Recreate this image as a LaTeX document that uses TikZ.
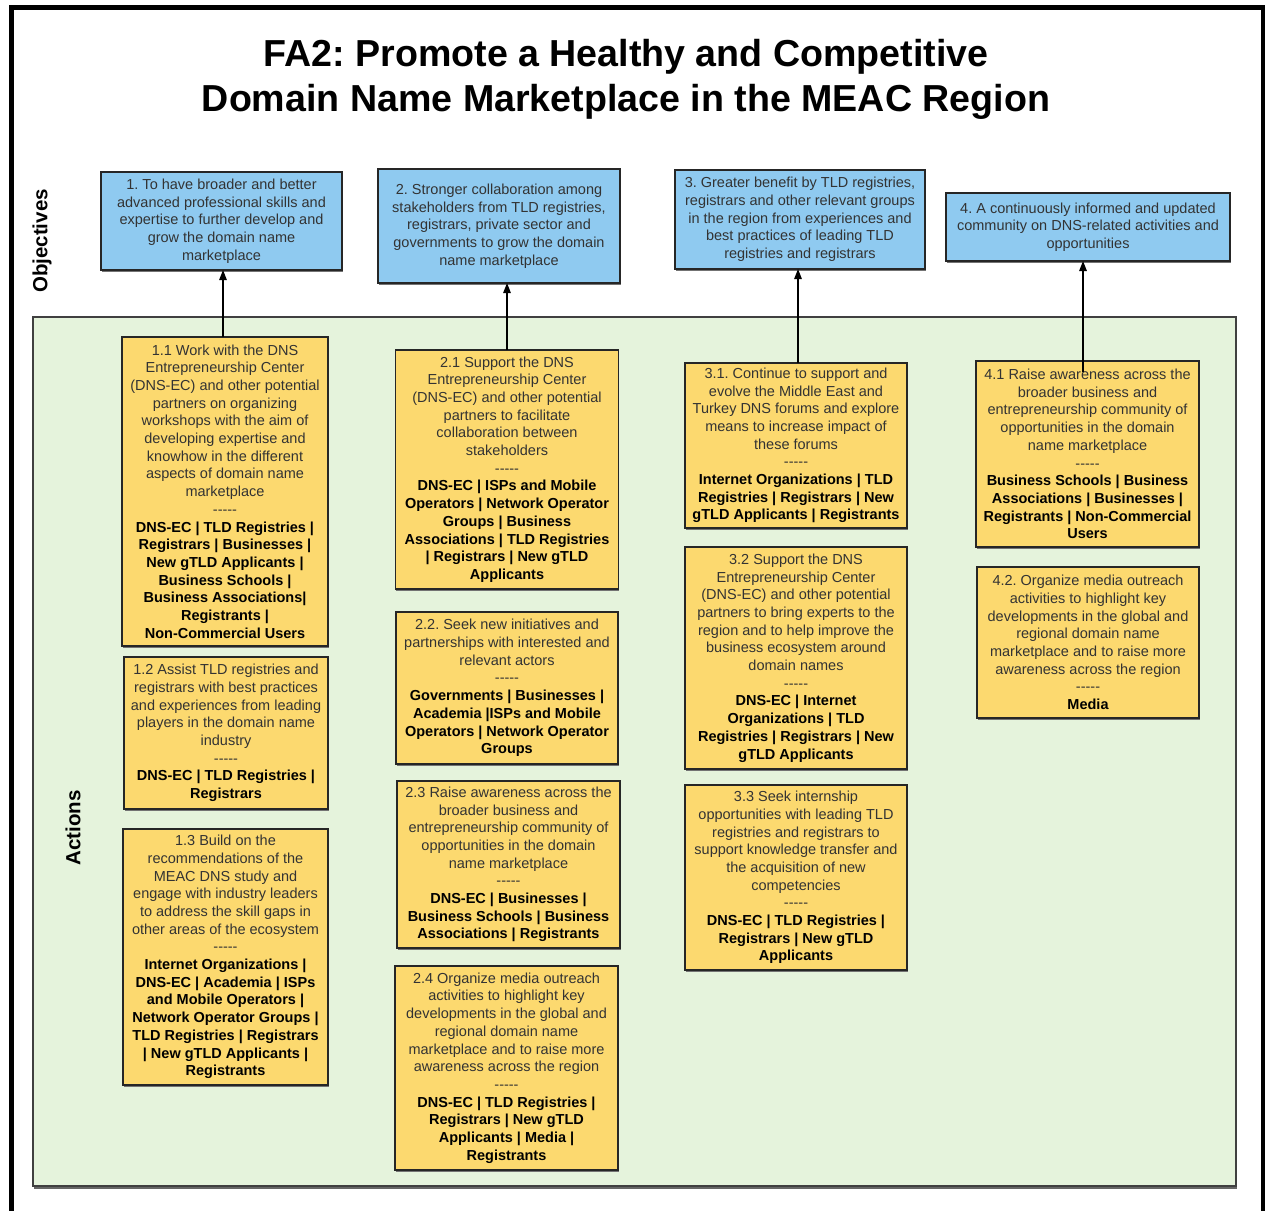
\documentclass[tikz,border=0pt]{standalone}
\usepackage{fontspec}
\setmainfont{Liberation Sans}
\usetikzlibrary{arrows.meta,shadows}
\definecolor{objblue}{HTML}{8FCAF0}
\definecolor{actyellow}{HTML}{FCD96F}
\definecolor{areagreen}{HTML}{E5F3DC}
\definecolor{txtgray}{HTML}{333333}
\newcommand\dashsep{-{}-{}-{}-{}-}
\frenchspacing
\begin{document}
\begin{tikzpicture}[x=1pt,y=-1pt,
  boxbase/.style={draw=black!85,line width=1.4pt,inner sep=0pt,outer sep=0pt,align=center,
    font=\fontsize{14.5}{17.7}\selectfont,text=txtgray,
    drop shadow={shadow xshift=0.8pt,shadow yshift=-1.6pt,fill=black!55,opacity=1}},
  objbox/.style={boxbase,fill=objblue},
  actbox/.style={boxbase,fill=actyellow},
  sidelabel/.style={rotate=90,font=\bfseries\fontsize{20.5}{24}\selectfont,text=black},
  upline/.style={line width=1.3pt,-{Triangle[length=10pt,width=7.5pt]}}]
\useasboundingbox (0,0) rectangle (1265,1210);
\fill[white] (0,0) rectangle (1265,1210);
% outer frame
\draw[line width=5pt,black] (11.5,1216) -- (11.5,7.5) -- (1263,7.5) -- (1263,1216);
% title
\node[font=\bfseries\fontsize{37.6}{45}\selectfont,align=center,text=black] (title) at (626,79)
  {FA2: Promote a Healthy and Competitive\\Domain Name Marketplace in the MEAC Region};
% actions area
\node[draw=black!75,line width=1.4pt,fill=areagreen,minimum width=1203pt,minimum height=869pt,
  inner sep=0pt,outer sep=0pt,
  drop shadow={shadow xshift=0.5pt,shadow yshift=-2.5pt,fill=black!60,opacity=1}] (area) at (634.5,751.5) {};
\node[sidelabel] (objlab) at (42,241) {Objectives};
\node[sidelabel] (actlab) at (73,828) {Actions};
% objectives
\node[objbox,minimum width=241pt,minimum height=98pt] (o1) at (221.5,221)
 {1. To have broader and better\\advanced professional skills and\\expertise to further develop and\\grow the domain name\\marketplace};
\node[objbox,minimum width=242pt,minimum height=114pt] (o2) at (499,226)
 {2. Stronger collaboration among\\stakeholders from TLD registries,\\registrars, private sector and\\governments to grow the domain\\name marketplace};
\node[objbox,minimum width=250pt,minimum height=99pt] (o3) at (800,219.5)
 {3. Greater benefit by TLD registries,\\registrars and other relevant groups\\in the region from experiences and\\best practices of leading TLD\\registries and registrars};
\node[objbox,minimum width=284pt,minimum height=68pt] (o4) at (1088,227)
 {4. A continuously informed and updated\\community on DNS-related activities and\\opportunities};
% actions column 1
\node[actbox,minimum width=206pt,minimum height=309pt] (a11) at (225,491.5)
 {1.1 Work with the DNS\\Entrepreneurship Center\\(DNS-EC) and other potential\\partners on organizing\\workshops with the aim of\\developing expertise and\\knowhow in the different\\aspects of domain name\\marketplace\\\dashsep\\
 \textbf{\color{black}DNS-EC | TLD Registries |}\\\textbf{\color{black}Registrars | Businesses |}\\\textbf{\color{black}New gTLD Applicants |}\\\textbf{\color{black}Business Schools |}\\\textbf{\color{black}Business Associations|}\\\textbf{\color{black}Registrants |}\\\textbf{\color{black}Non-Commercial Users}};
\node[actbox,minimum width=204pt,minimum height=152pt] (a12) at (226,733)
 {1.2 Assist TLD registries and\\registrars with best practices\\and experiences from leading\\players in the domain name\\industry\\\dashsep\\
 \textbf{\color{black}DNS-EC | TLD Registries |}\\\textbf{\color{black}Registrars}};
\node[actbox,minimum width=205pt,minimum height=256pt] (a13) at (225.5,957)
 {1.3 Build on the\\recommendations of the\\MEAC DNS study and\\engage with industry leaders\\to address the skill gaps in\\other areas of the ecosystem\\\dashsep\\
 \textbf{\color{black}Internet Organizations |}\\\textbf{\color{black}DNS-EC | Academia | ISPs}\\\textbf{\color{black}and Mobile Operators |}\\\textbf{\color{black}Network Operator Groups |}\\\textbf{\color{black}TLD Registries | Registrars}\\\textbf{\color{black}| New gTLD Applicants |}\\\textbf{\color{black}Registrants}};
% actions column 2
\node[actbox,minimum width=223pt,minimum height=239pt] (a21) at (507,469.5)
 {2.1 Support the DNS\\Entrepreneurship Center\\(DNS-EC) and other potential\\partners to facilitate\\collaboration between\\stakeholders\\\dashsep\\
 \textbf{\color{black}DNS-EC | ISPs and Mobile}\\\textbf{\color{black}Operators | Network Operator}\\\textbf{\color{black}Groups | Business}\\\textbf{\color{black}Associations | TLD Registries}\\\textbf{\color{black}| Registrars | New gTLD}\\\textbf{\color{black}Applicants}};
\node[actbox,minimum width=222pt,minimum height=152pt] (a22) at (507,688)
 {2.2. Seek new initiatives and\\partnerships with interested and\\relevant actors\\\dashsep\\
 \textbf{\color{black}Governments | Businesses |}\\\textbf{\color{black}Academia |ISPs and Mobile}\\\textbf{\color{black}Operators | Network Operator}\\\textbf{\color{black}Groups}};
\node[actbox,minimum width=223pt,minimum height=167pt] (a23) at (508.5,864.5)
 {2.3 Raise awareness across the\\broader business and\\entrepreneurship community of\\opportunities in the domain\\name marketplace\\\dashsep\\
 \textbf{\color{black}DNS-EC | Businesses |}\\\textbf{\color{black}Business Schools | Business}\\\textbf{\color{black}Associations | Registrants}};
\node[actbox,minimum width=223pt,minimum height=204pt] (a24) at (506.5,1068)
 {2.4 Organize media outreach\\activities to highlight key\\developments in the global and\\regional domain name\\marketplace and to raise more\\awareness across the region\\\dashsep\\
 \textbf{\color{black}DNS-EC | TLD Registries |}\\\textbf{\color{black}Registrars | New gTLD}\\\textbf{\color{black}Applicants | Media |}\\\textbf{\color{black}Registrants}};
% actions column 3
\node[actbox,minimum width=222pt,minimum height=165pt] (a31) at (796,445.5)
 {3.1. Continue to support and\\evolve the Middle East and\\Turkey DNS forums and explore\\means to increase impact of\\these forums\\\dashsep\\
 \textbf{\color{black}Internet Organizations | TLD}\\\textbf{\color{black}Registries | Registrars | New}\\\textbf{\color{black}gTLD Applicants | Registrants}};
\node[actbox,minimum width=222pt,minimum height=222pt] (a32) at (796,658)
 {3.2 Support the DNS\\Entrepreneurship Center\\(DNS-EC) and other potential\\partners to bring experts to the\\region and to help improve the\\business ecosystem around\\domain names\\\dashsep\\
 \textbf{\color{black}DNS-EC | Internet}\\\textbf{\color{black}Organizations | TLD}\\\textbf{\color{black}Registries | Registrars | New}\\\textbf{\color{black}gTLD Applicants}};
\node[actbox,minimum width=222pt,minimum height=185pt] (a33) at (796,877.5)
 {3.3 Seek internship\\opportunities with leading TLD\\registries and registrars to\\support knowledge transfer and\\the acquisition of new\\competencies\\\dashsep\\
 \textbf{\color{black}DNS-EC | TLD Registries |}\\\textbf{\color{black}Registrars | New gTLD}\\\textbf{\color{black}Applicants}};
% actions column 4
\node[actbox,minimum width=223pt,minimum height=186pt] (a41) at (1087.5,454)
 {4.1 Raise awareness across the\\broader business and\\entrepreneurship community of\\opportunities in the domain\\name marketplace\\\dashsep\\
 \textbf{\color{black}Business Schools | Business}\\\textbf{\color{black}Associations | Businesses |}\\\textbf{\color{black}Registrants | Non-Commercial}\\\textbf{\color{black}Users}};
\node[actbox,minimum width=222pt,minimum height=151pt] (a42) at (1088,642.5)
 {4.2. Organize media outreach\\activities to highlight key\\developments in the global and\\regional domain name\\marketplace and to raise more\\awareness across the region\\\dashsep\\
 \textbf{\color{black}Media}};
% arrows
\draw[upline] ([xshift=-2pt]a11.north) -- ([xshift=-2pt]a11.north |- o1.south);
\draw[upline] (a21.north) -- (a21.north |- o2.south);
\draw[upline] ([xshift=2pt]a31.north) -- ([xshift=2pt]a31.north |- o3.south);
\draw[upline] ([xshift=-4.5pt,yshift=-11pt]a41.north) -- ([xshift=-4.5pt]a41.north |- o4.south);
\end{tikzpicture}
\end{document}
